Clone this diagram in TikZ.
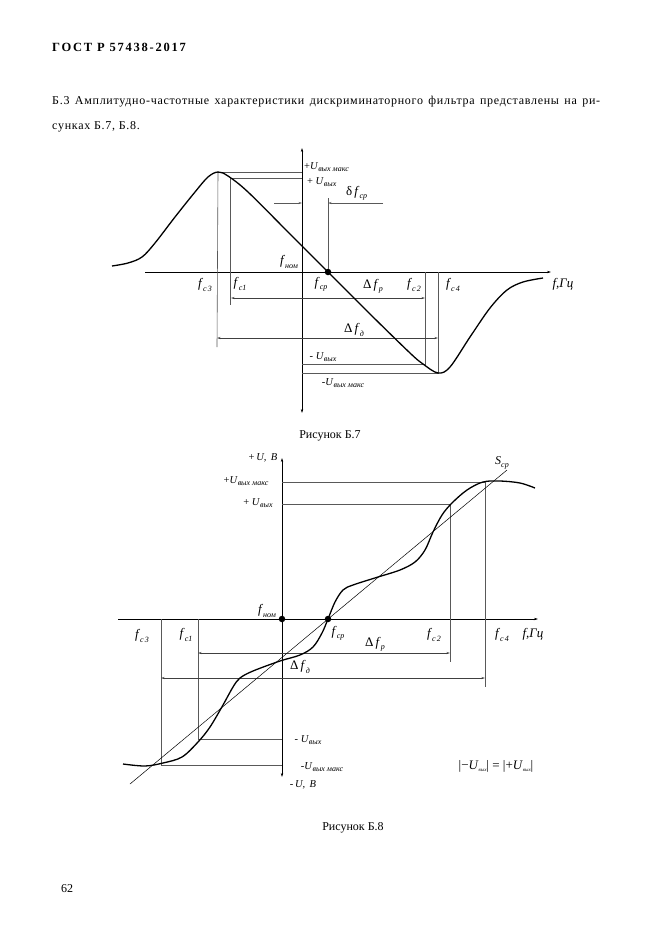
\documentclass[tikz,border=0pt]{standalone}
\usepackage{fontspec}
\setmainfont{Liberation Serif}
\usetikzlibrary{positioning, arrows.meta}
\newcommand{\fsub}[2]{\textit{#1}\raisebox{-.55ex}{\footnotesize\itshape #2}}
\newcommand{\usub}[2]{#1\textit{U}\raisebox{-.55ex}{\footnotesize\itshape #2}}

\begin{document}
\begin{tikzpicture}[x=1pt, y=-1pt,
	axis/.style={line width=.7pt, -{Stealth[length=4pt, width=2.4pt]}},
	twoaxis/.style={line width=.7pt, {Stealth[length=4pt, width=2.4pt]}-{Stealth[length=4pt, width=2.4pt]}},
	helper/.style={line width=.6pt, black!65},
	dim/.style={line width=.6pt, black!75, {Stealth[length=3.5pt, width=2pt]}-{Stealth[length=3.5pt, width=2pt]}},
	tip/.style={line width=.6pt, black!65, -{Stealth[length=3.5pt, width=2pt]}},
	curve/.style={line width=1.3pt, line join=round},
	dot/.style={circle, fill, inner sep=0pt, minimum size=6.5pt},
	flbl/.style={font=\fontsize{13}{13}\selectfont, inner sep=1pt},
	ulbl/.style={font=\fontsize{10.5}{10.5}\selectfont, inner sep=1pt},
	txt/.style={font=\fontsize{12}{14}\selectfont, inner sep=0pt}]
	\useasboundingbox (0,0) rectangle (661,935);
	\fill[white] (0,0) rectangle (661,935);
	\node[txt, anchor=west, font=\bfseries\fontsize{12.5}{14}\selectfont\addfontfeature{LetterSpace=14}] (hdr) at (52,47) {ГОСТ Р 57438-2017};
	\node[txt, anchor=west, font=\fontsize{12}{14}\selectfont\addfontfeature{LetterSpace=6}] (par1) at (52,102) {\makebox[548pt][s]{Б.3 Амплитудно-частотные характеристики дискриминаторного фильтра представлены на ри-}};
	\node[txt, anchor=west, font=\fontsize{12}{14}\selectfont\addfontfeature{LetterSpace=6}] (par2) at (52,127) {сунках Б.7, Б.8.};
	% figure B.7
	\coordinate (vt7) at (302,148);
	\coordinate (vb7) at (302,413);
	\coordinate (hl7) at (145,272);
	\coordinate (hr7) at (551,272);
	\draw[twoaxis] (vb7) -- (vt7);
	\draw[axis] (hl7) -- (hr7);
	\coordinate (pk7) at (218,172);
	\coordinate (mn7) at (438,373);
	\coordinate (c17) at (230,178);
	\coordinate (c27) at (425,364);
	\draw[helper] (pk7) -- (pk7 -| vt7);
	\draw[helper] (c17) -- (c17 -| vt7);
	\draw[helper] (pk7) -- (217,347) coordinate (c3b7);
	\draw[helper] (c17) -- (230,305) coordinate (c1b7);
	\draw[helper] (c27 |- hl7) -- (c27) -- (c27 -| vt7);
	\draw[helper] (mn7 |- hl7) -- (mn7) -- (mn7 -| vt7);
	\node[dot] (cp7) at (328,272) {};
	\draw[helper] (cp7) -- (328,198) coordinate (cpt7);
	\coordinate (dl7) at (274,203);
	\coordinate (dr7) at (383,203);
	\draw[tip] (dl7) -- (dl7 -| vt7);
	\draw[tip] (dr7) -- (dr7 -| cp7);
	\draw[dim] (231,298) coordinate (dpl7) -- (dpl7 -| c27);
	\draw[dim] (217,338) coordinate (ddl7) -- (ddl7 -| mn7);
	\draw[curve] plot[smooth, tension=.55] coordinates {(112,266) (128,263) (142,257) (155,243) (175,217) (195,192) (208,177) (218,172) (228,176) (248,192) (290,234) (328,272) (370,314) (410,353) (423,364) (438,373) (450,367) (470,337) (490,308) (507,290) (523,282) (543,278)};
	\node[ulbl, anchor=west] (umax7) at (303,167) {\usub{+}{вых макс}};
	\node[ulbl, anchor=west] (u7) at (306,182) {\usub{+ }{вых}};
	\node[flbl, anchor=west] (dcp7) at (345,193) {δ\,\fsub{f}{ср}};
	\node[flbl] (nom7) at (289,262) {\fsub{f}{ном}};
	\node[flbl] (fcp7) at (321,284) {\fsub{f}{ср}};
	\node[flbl] (fc37) at (205,285) {\fsub{f}{c\,3}};
	\node[flbl] (fc17) at (240,284) {\fsub{f}{c1}};
	\node[flbl] (dfp7) at (373,286) {Δ\,\fsub{f}{р}};
	\node[flbl] (fc27) at (414,285) {\fsub{f}{c\,2}};
	\node[flbl] (fc47) at (453,285) {\fsub{f}{c\,4}};
	\node[flbl] (fhz7) at (563,284) {\textit{f,Гц}};
	\node[flbl] (dfd7) at (354,330) {Δ\,\fsub{f}{д}};
	\node[ulbl] (mu7) at (323,357) {\usub{- }{вых}};
	\node[ulbl] (mumax7) at (343,383) {\usub{-}{вых макс}};
	\node[txt] (cap7) at (330,436) {Рисунок Б.7};
	% figure B.8
	\coordinate (vt8) at (282,458);
	\coordinate (vb8) at (282,777);
	\coordinate (hl8) at (118,619);
	\coordinate (hr8) at (538,619);
	\draw[twoaxis] (vb8) -- (vt8);
	\draw[axis] (hl8) -- (hr8);
	\coordinate (c48) at (485,482);
	\coordinate (c28) at (450,504);
	\coordinate (c38) at (161,765);
	\coordinate (c18) at (198,739);
	\draw[helper] (c48 -| vt8) -- (c48) -- (485,687) coordinate (c4b8);
	\draw[helper] (c28 -| vt8) -- (c28) -- (450,662) coordinate (c2b8);
	\draw[helper] (c38 |- hl8) -- (c38) -- (c38 -| vt8);
	\draw[helper] (c18 |- hl8) -- (c18) -- (c18 -| vt8);
	\draw[dim] (198,653) coordinate (dpl8) -- (dpl8 -| c28);
	\draw[dim] (161,678) coordinate (ddl8) -- (ddl8 -| c48);
	\node[dot] (nom8) at (282,619) {};
	\node[dot] (cp8) at (328,619) {};
	\draw[line width=.5pt] (130,784) coordinate (sl8) -- (507,470) coordinate (su8);
	\draw[curve] plot[smooth, tension=.55] coordinates {(123,764) (145,766) (163,763) (182,757) (198,742) (210,727) (223,705) (233,687) (240,678) (253,671) (280,661) (300,655) (313,647) (322,633) (328,619) (335,602) (343,590) (353,585) (378,577) (400,570) (415,562) (425,550) (433,532) (442,515) (452,503) (467,490) (483,482) (500,481) (520,483) (535,488)};
	\node[ulbl] (upb8) at (263,458) {+\,\textit{U,\, В}};
	\node[ulbl] (umax8) at (246,481) {\usub{+}{вых макс}};
	\node[ulbl] (u8) at (258,503) {\usub{+ }{вых}};
	\node[ulbl, font=\fontsize{12}{12}\selectfont] (scp8) at (502,463) {\textit{S}\raisebox{-.55ex}{\footnotesize\itshape ср}};
	\node[flbl] (fnom8) at (267,611) {\fsub{f}{ном}};
	\node[flbl] (fc38) at (142,636) {\fsub{f}{c\,3}};
	\node[flbl] (fc18) at (186,635) {\fsub{f}{c1}};
	\node[flbl] (fcp8) at (338,633) {\fsub{f}{ср}};
	\node[flbl] (dfp8) at (375,644) {Δ\,\fsub{f}{р}};
	\node[flbl] (fc28) at (434,635) {\fsub{f}{c\,2}};
	\node[flbl] (fc48) at (502,635) {\fsub{f}{c\,4}};
	\node[flbl] (fhz8) at (533,634) {\textit{f,Гц}};
	\node[flbl] (dfd8) at (300,667) {Δ\,\fsub{f}{д}};
	\node[ulbl] (mu8) at (308,740) {\usub{- }{вых}};
	\node[ulbl] (mumax8) at (322,767) {\usub{-}{вых макс}};
	\node[ulbl] (mub8) at (303,785) {-\,\textit{U,\, В}};
	\node[flbl] (eq8) at (496,766) {|−\textit{U}\raisebox{-.5ex}{\tiny\itshape вых}| = |+\textit{U}\raisebox{-.5ex}{\tiny\itshape вых}|};
	\node[txt] (cap8) at (353,828) {Рисунок Б.8};
	\node[txt] (pg) at (67,889) {62};
\end{tikzpicture}
\end{document}
